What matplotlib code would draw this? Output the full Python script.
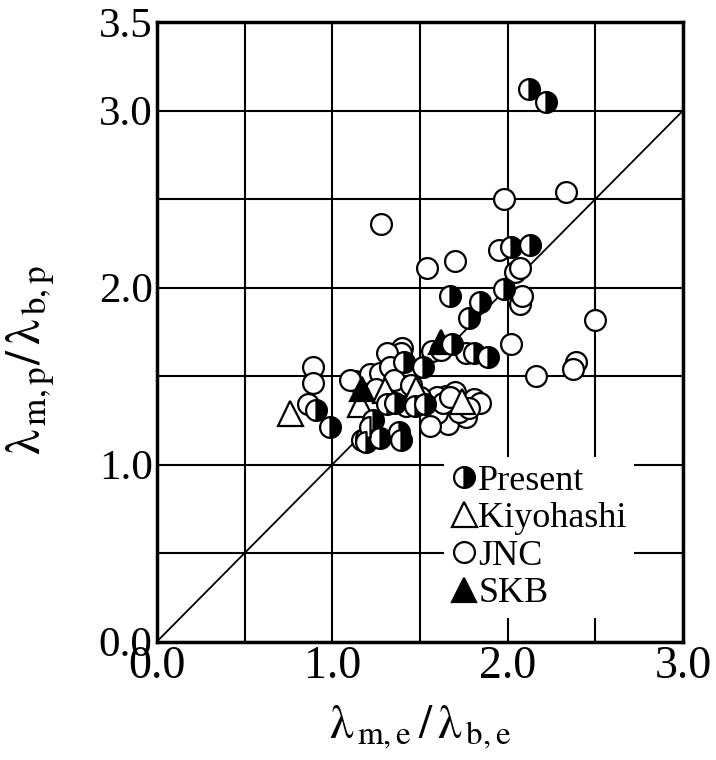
import numpy as np
import matplotlib.pyplot as plt

plt.rcParams['font.family'] = ['Liberation Serif', 'DejaVu Serif']
plt.rcParams['mathtext.fontset'] = 'stix'

# measured / estimated ratios
present_x = [2.12, 2.22, 2.02, 2.13, 1.98, 1.67, 1.84, 1.78, 1.68, 1.81, 1.89,
             1.41, 1.52, 0.91, 0.99, 1.23, 1.31, 1.36, 1.47, 1.53, 1.38, 1.27,
             1.39, 1.215, 1.19]
present_y = [3.12, 3.05, 2.23, 2.24, 1.99, 1.95, 1.92, 1.83, 1.68, 1.63, 1.61,
             1.58, 1.55, 1.31, 1.21, 1.25, 1.345, 1.35, 1.33, 1.34, 1.185, 1.15,
             1.14, 1.21, 1.13]

jnc_x = [1.98, 2.33, 1.95, 2.04, 2.07, 1.54, 1.70, 2.07, 2.08, 2.50, 2.02, 1.76,
         2.39, 2.37, 2.16, 1.40, 1.39, 1.57, 1.62, 1.44, 1.65, 1.70, 1.81, 1.84,
         1.66, 1.76, 1.72, 1.78, 1.60, 0.89, 0.89, 0.86, 1.13, 1.215, 1.31, 1.10,
         1.38, 1.42, 1.60, 1.63, 1.56, 1.17, 1.19, 1.27, 1.33, 1.35, 1.25, 1.45,
         1.50, 1.67, 1.28]
jnc_y = [2.50, 2.54, 2.21, 2.09, 2.11, 2.11, 2.15, 1.91, 1.95, 1.815, 1.68, 1.63,
         1.58, 1.54, 1.50, 1.66, 1.63, 1.64, 1.65, 1.34, 1.39, 1.41, 1.37, 1.35,
         1.23, 1.27, 1.30, 1.32, 1.29, 1.55, 1.46, 1.345, 1.47, 1.51, 1.63, 1.48,
         1.43, 1.33, 1.38, 1.35, 1.22, 1.14, 1.15, 1.52, 1.55, 1.48, 1.43, 1.45,
         1.38, 1.38, 2.36]

kiyo_x = [0.76, 1.16, 1.48, 1.74, 1.30]
kiyo_y = [1.29, 1.345, 1.43, 1.36, 1.42]

skb_x = [1.17, 1.62]
skb_y = [1.43, 1.69]

fig = plt.figure(figsize=(7.16, 7.6), dpi=100)
ax = fig.add_axes([0.219, 0.1557, 0.735, 0.8153])

ax.plot([0, 3], [0, 3], color='black', lw=1.3, zorder=1)

ms = 15
ax.plot(jnc_x, jnc_y, 'o', ms=ms, mfc='white', mec='black', mew=1.6,
        label='JNC', zorder=3)
ax.plot(kiyo_x, kiyo_y, '^', ms=18, mfc='white', mec='black', mew=1.6,
        label='Kiyohashi', zorder=4)
ax.plot(skb_x, skb_y, '^', ms=17, mfc='black', mec='black', mew=1.6,
        label='SKB', zorder=4)
ax.plot(present_x, present_y, 'o', ms=ms, fillstyle='right', mfc='black',
        markerfacecoloralt='white', mec='black', mew=1.6, label='Present',
        zorder=5)

ax.set_xlim(0, 3.0)
ax.set_ylim(0, 3.5)
ax.set_xticks(np.arange(0, 3.01, 0.5))
ax.set_yticks(np.arange(0, 3.51, 0.5))
ax.set_xticklabels(['0.0', '', '1.0', '', '2.0', '', '3.0'])
ax.set_yticklabels(['0.0', '', '1.0', '', '2.0', '', '3.0', '3.5'])
ax.grid(True, color='black', lw=1.5, zorder=0)
ax.set_axisbelow(True)
ax.tick_params(length=0, pad=3)
ax.tick_params(axis='x', labelsize=33)
ax.tick_params(axis='y', labelsize=31)
for s in ax.spines.values():
    s.set_linewidth(2.5)

ax.set_xlabel(r'$\mathrm{\lambda}_{\,\mathrm{m,e}}\,/\,\mathrm{\lambda}_{\,\mathrm{b,e}}$',
              fontsize=34)
ax.set_ylabel(r'$\mathrm{\lambda}_{\,\mathrm{m,p}}/\,\mathrm{\lambda}_{\,\mathrm{b,p}}$',
              fontsize=36)
ax.xaxis.set_label_coords(0.5, -0.1)
ax.yaxis.set_label_coords(-0.19, 0.455)

handles, labels = ax.get_legend_handles_labels()
order = [labels.index(n) for n in ['Present', 'Kiyohashi', 'JNC', 'SKB']]
leg = ax.legend([handles[i] for i in order], [labels[i] for i in order],
                loc='upper left', bbox_to_anchor=(0.546, 0.298), fontsize=26,
                frameon=True, fancybox=False, framealpha=1, edgecolor='none',
                handlelength=0.7, handletextpad=0.05, labelspacing=0.12,
                borderpad=0.2, borderaxespad=0, markerscale=1.0)
leg.set_zorder(10)

fig.savefig('out.png', dpi=100)
